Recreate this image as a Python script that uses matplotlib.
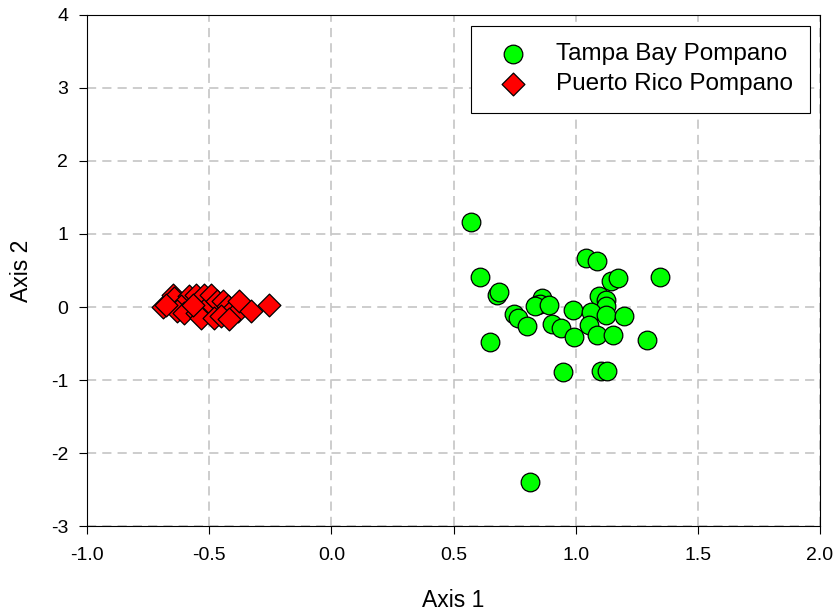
import matplotlib
matplotlib.use("Agg")
import matplotlib.pyplot as plt
from matplotlib.ticker import FormatStrFormatter

plt.rcParams["font.family"] = ["Liberation Sans", "DejaVu Sans"]
plt.rcParams["axes.unicode_minus"] = False

# Tampa Bay Pompano (axis 1, axis 2)
tampa_x = [0.571, 1.041, 1.089, 0.610, 1.144, 1.174, 1.347, 0.678, 0.685, 0.863,
           0.842, 0.856, 0.832, 0.890, 0.989, 1.096, 1.123, 1.123, 1.062, 1.123,
           1.199, 0.747, 0.763, 0.801, 0.904, 0.941, 0.993, 1.055, 1.089, 1.151,
           0.648, 1.292, 0.948, 1.105, 1.130, 0.813]
tampa_y = [1.164, 0.668, 0.636, 0.405, 0.359, 0.395, 0.405, 0.168, 0.200, 0.123,
           0.032, 0.045, 0.018, 0.030, -0.036, 0.145, 0.100, 0.010, -0.073, -0.105,
           -0.127, -0.091, -0.150, -0.255, -0.227, -0.286, -0.409, -0.241, -0.377, -0.377,
           -0.482, -0.455, -0.886, -0.877, -0.877, -2.400]

# Puerto Rico Pompano
pr_x = [-0.691, -0.650, -0.643, -0.582, -0.616, -0.555, -0.520, -0.500, -0.493, -0.466,
        -0.445, -0.425, -0.418, -0.384, -0.377, -0.330, -0.254, -0.630, -0.602, -0.548,
        -0.534, -0.480, -0.452, -0.418, -0.568, -0.677]
pr_y = [0.000, 0.170, 0.120, 0.146, 0.010, 0.170, 0.170, 0.030, 0.170, 0.080,
        0.080, 0.010, -0.080, -0.060, 0.080, -0.060, 0.030, -0.060, -0.080, -0.080,
        -0.150, -0.150, -0.130, -0.170, 0.030, 0.030]

fig = plt.figure(figsize=(8.4, 6.14), dpi=100)
ax = fig.add_axes([0.1036, 0.1433, 0.8726, 0.8323])

ax.scatter(tampa_x, tampa_y, s=180, marker="o", facecolor="#00ff00",
           edgecolor="black", linewidth=0.9, label="Tampa Bay Pompano", zorder=3)
ax.scatter(pr_x, pr_y, s=135, marker="D", facecolor="#ff0000",
           edgecolor="black", linewidth=0.9, label="Puerto Rico Pompano", zorder=3)

ax.set_xlim(-1.0, 2.0)
ax.set_ylim(-3, 4)
ax.set_xticks([-1.0, -0.5, 0.0, 0.5, 1.0, 1.5, 2.0])
ax.set_yticks(range(-3, 5))
ax.xaxis.set_major_formatter(FormatStrFormatter("%.1f"))
ax.tick_params(direction="out", length=6, labelsize=14)
ax.tick_params(axis="x", pad=9)
ax.tick_params(axis="y", pad=7.5)
ax.grid(True, color="#c0c0c0", linestyle=(0, (6, 4)), linewidth=1.1, zorder=0)
ax.set_axisbelow(True)

ax.set_xlabel("Axis 1", fontsize=16.5)
ax.set_ylabel("Axis 2", fontsize=16.5)
ax.xaxis.set_label_coords(0.5, -0.124)
ax.yaxis.set_label_coords(-0.074, 0.5)

leg = ax.legend(loc="upper right", fontsize=17.5, frameon=True, fancybox=False,
                edgecolor="black", framealpha=1, borderpad=0.72, handletextpad=0.74,
                handlelength=2.0, labelspacing=0.33, borderaxespad=0,
                bbox_to_anchor=(0.9864, 0.979))
leg.get_frame().set_linewidth(0.8)

fig.savefig("out.png", dpi=100)
